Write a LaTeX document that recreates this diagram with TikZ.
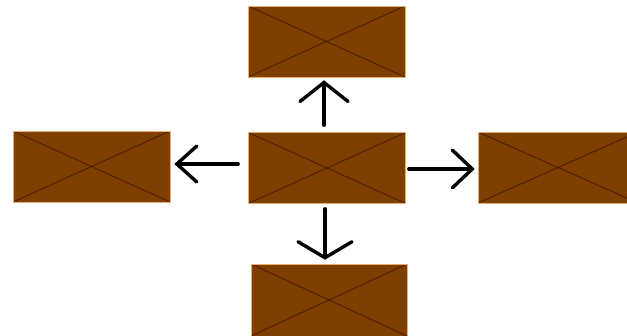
\documentclass[tikz,border=0pt]{standalone}
\usetikzlibrary{arrows.meta}
\definecolor{boxfill}{HTML}{7F3F00}
\definecolor{boxcross}{HTML}{4A1E00}
\definecolor{boxedge}{HTML}{E8B070}
\begin{document}
\begin{tikzpicture}[x=1pt,y=-1pt,
  brownbox/.style={rectangle, fill=boxfill, draw=boxedge, line width=0.6pt,
    minimum width=157pt, minimum height=71pt, inner sep=0pt,
    path picture={\draw[boxcross, line width=0.8pt]
      (path picture bounding box.north west) -- (path picture bounding box.south east)
      (path picture bounding box.south west) -- (path picture bounding box.north east);}},
  arrowline/.style={line width=3.4pt, line cap=round, black,
    -{Straight Barb[length=19pt, width=48pt, line width=3.4pt, line cap=round]}}
]
\useasboundingbox (0,0) rectangle (627,335);
\node[brownbox] (t) at (326.5,41.5) {};
\node[brownbox] (l) at (91.5,166.5) {};
\node[brownbox] (c) at (327,168) {};
\node[brownbox, minimum width=160pt] (r) at (558,167.5) {};
\node[brownbox, minimum width=156pt, minimum height=72pt] (b) at (329,300) {};
\draw[arrowline, shorten <=7pt, shorten >=3pt] ([xshift=-3pt]c.north) -- ([xshift=-2.5pt]t.south);
\draw[arrowline, -{Straight Barb[length=20pt, width=36pt, line width=3.4pt, line cap=round]}, shorten <=10pt, shorten >=4pt] ([yshift=4pt]c.west) -- ([yshift=2.5pt]l.east);
\draw[arrowline, -{Straight Barb[length=20pt, width=38pt, line width=3.4pt, line cap=round]}, shorten <=3pt, shorten >=3pt] ([yshift=-1pt]c.east) -- ([yshift=-1.5pt]r.west);
\draw[arrowline, -{Straight Barb[length=16pt, width=54pt, line width=3.4pt, line cap=round]}, shorten <=5pt, shorten >=4pt] ([xshift=-2pt]c.south) -- ([xshift=-4pt]b.north);
\end{tikzpicture}
\end{document}
